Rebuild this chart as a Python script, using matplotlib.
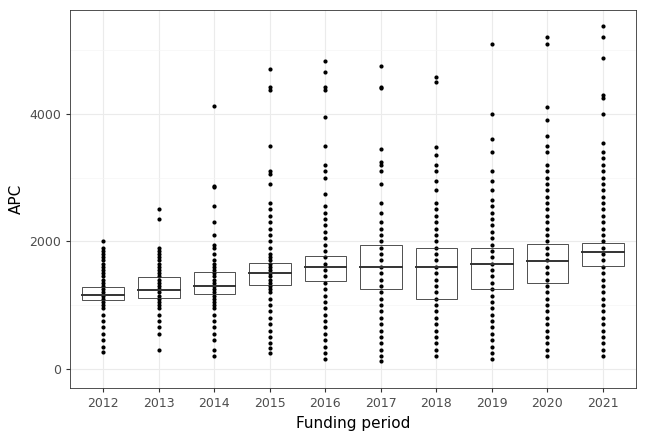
import matplotlib
matplotlib.use("Agg")
import matplotlib.pyplot as plt

years = ["2012", "2013", "2014", "2015", "2016", "2017", "2018", "2019", "2020", "2021"]

# box statistics: lower quartile, median, upper quartile
q1 = [1085, 1115, 1175, 1320, 1380, 1255, 1100, 1255, 1350, 1615]
med = [1160, 1240, 1300, 1510, 1600, 1600, 1590, 1650, 1690, 1835]
q3 = [1290, 1445, 1520, 1665, 1775, 1945, 1900, 1900, 1960, 1975]

# individual APC values (points)
apc = {
    "2012": [270, 350, 450, 550, 650, 750, 850, 950, 1000, 1050, 1100, 1150, 1200, 1250,
             1300, 1350, 1400, 1450, 1500, 1550, 1600, 1650, 1700, 1750, 1800, 1850, 1900, 2000],
    "2013": [300, 550, 650, 750, 850, 950, 1000, 1050, 1100, 1150, 1200, 1250, 1300, 1350,
             1400, 1450, 1500, 1550, 1600, 1650, 1700, 1750, 1800, 1850, 1900, 2350, 2500],
    "2014": [200, 300, 450, 550, 650, 750, 850, 950, 1000, 1050, 1100, 1150, 1200, 1250, 1300,
             1350, 1400, 1450, 1500, 1550, 1600, 1650, 1700, 1800, 1900, 1950, 2100, 2300,
             2550, 2850, 2870, 4130],
    "2015": [250, 320, 400, 500, 600, 700, 800, 900, 1000, 1100, 1200, 1250, 1300, 1350, 1400,
             1450, 1500, 1550, 1600, 1650, 1700, 1750, 1800, 1900, 2000, 2100, 2200, 2300, 2400,
             2500, 2600, 2900, 3050, 3100, 3500, 4380, 4420, 4700],
    "2016": [150, 250, 350, 450, 550, 650, 750, 850, 950, 1050, 1150, 1250, 1350, 1450, 1550,
             1650, 1750, 1850, 1950, 2050, 2150, 2250, 2350, 2450, 2550, 2750, 3000, 3100, 3200,
             3500, 3950, 4380, 4420, 4650, 4830],
    "2017": [130, 200, 300, 400, 500, 600, 700, 800, 900, 1000, 1100, 1200, 1300, 1400, 1500,
             1600, 1700, 1800, 1900, 2000, 2100, 2200, 2300, 2450, 2600, 2900, 3100, 3200, 3250,
             3450, 4400, 4420, 4750],
    "2018": [200, 300, 400, 500, 600, 700, 800, 900, 1000, 1100, 1200, 1300, 1400, 1500, 1600,
             1700, 1800, 1900, 2000, 2100, 2200, 2300, 2400, 2500, 2600, 2800, 2950, 3100, 3200,
             3350, 3480, 4500, 4580],
    "2019": [150, 250, 350, 450, 550, 650, 750, 850, 950, 1050, 1150, 1250, 1350, 1450, 1550,
             1650, 1750, 1850, 1950, 2050, 2150, 2250, 2350, 2450, 2550, 2650, 2800, 2950, 3100,
             3400, 3600, 4000, 5100],
    "2020": [200, 300, 400, 500, 600, 700, 800, 900, 1000, 1100, 1200, 1300, 1400, 1500, 1600,
             1700, 1800, 1900, 2000, 2100, 2200, 2300, 2400, 2500, 2600, 2700, 2800, 2900, 3000,
             3100, 3200, 3400, 3500, 3650, 3900, 4100, 5100, 5200],
    "2021": [200, 300, 400, 500, 600, 700, 800, 900, 1000, 1100, 1200, 1300, 1400, 1500, 1600,
             1700, 1800, 1900, 2000, 2100, 2200, 2300, 2400, 2500, 2600, 2700, 2800, 2900, 3000,
             3100, 3200, 3300, 3400, 3550, 4000, 4250, 4300, 4870, 5200, 5380],
}

fig, ax = plt.subplots(figsize=(6.48, 4.32), dpi=100)
fig.subplots_adjust(left=0.108, right=0.982, top=0.977, bottom=0.102)

for i, y in enumerate(years):
    ax.scatter([i] * len(apc[y]), apc[y], s=9, color="black", zorder=2, linewidths=0)
    ax.add_patch(plt.Rectangle((i - 0.375, q1[i]), 0.75, q3[i] - q1[i], fill=False,
                               edgecolor="#333333", linewidth=0.6, zorder=3))
    ax.plot([i - 0.375, i + 0.375], [med[i], med[i]], color="#333333", linewidth=1.4, zorder=3)

ax.set_xlim(-0.6, len(years) - 0.4)
ax.set_ylim(-300, 5630)
ax.set_xticks(range(len(years)))
ax.set_xticklabels(years)
ax.set_yticks([0, 2000, 4000])
ax.set_yticks([1000, 3000, 5000], minor=True)
ax.grid(True, which="major", color="#ebebeb", linewidth=0.8, zorder=0)
ax.grid(True, which="minor", axis="y", color="#f5f5f5", linewidth=0.5, zorder=0)
ax.set_axisbelow(True)
for s in ax.spines.values():
    s.set_color("#333333")
    s.set_linewidth(0.6)
ax.tick_params(which="both", colors="#333333", labelcolor="#4d4d4d", labelsize=9, length=3)
ax.tick_params(which="minor", length=0)
ax.set_xlabel("Funding period", fontsize=11)
ax.set_ylabel("APC", fontsize=11)

fig.savefig("out.png", dpi=100)
